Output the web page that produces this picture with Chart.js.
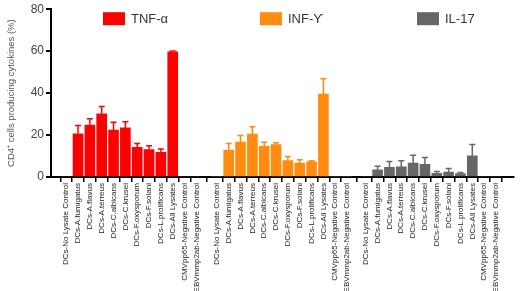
<!DOCTYPE html>
<html>
<head>
<meta charset="utf-8">
<script src="https://cdn.jsdelivr.net/npm/chart.js@4"></script>
<style>
  html, body { margin: 0; padding: 0; background: #fff; }
  #wrap { width: 520px; height: 291px; }
</style>
</head>
<body>
<div id="wrap"><canvas id="cytoChart"></canvas></div>
<script>
// categories (same for each cytokine group)
var categories = [
    'DCs-No Lysate Control', 'DCs-A.fumigatus', 'DCs-A.flavus', 'DCs-A.terreus',
    'DCs-C.albicans', 'DCs-C.krusei', 'DCs-F.oxysporum', 'DCs-F.solani',
    'DCs-L.prolificans', 'DCs-All Lysates', 'CMVpp65-Negative Control',
    'EBVmmp2ab-Negative Control'
];
var seriesNames = ['TNF-\u03b1', 'INF-\u03d2', 'IL-17'];

// mean values (%)
var tnfValues = [0, 20.6, 24.8, 30.1, 22.4, 23.4, 14.2, 13.1, 11.8, 59.7, 0, 0];
var infValues = [0, 12.8, 16.6, 20.5, 14.6, 15.4, 7.8, 6.6, 7.2, 39.5, 0, 0];
var il17Values = [0, 3.4, 4.6, 4.8, 6.6, 6.1, 1.8, 2.4, 1.6, 10.1, 0, 0];

// upper error (SD)
var tnfErr = [0, 3.9, 3.0, 3.5, 3.7, 3.0, 1.8, 1.8, 1.6, 0.4, 0, 0];
var infErr = [0, 3.2, 3.2, 3.5, 2.0, 0.9, 2.0, 1.6, 0.6, 7.3, 0, 0];
var il17Err = [0, 1.7, 2.8, 3.0, 3.8, 3.2, 0.8, 1.6, 0.5, 5.4, 0, 0];

var yTicks = [0, 20, 40, 60, 80];

// layout of the three groups along a linear x axis
var groupStart = [0, 12.73, 25.31];
var xPositions = [];
var xLabelAt = {};
groupStart.forEach(function (g) {
    categories.forEach(function (c, i) {
        xPositions.push(g + i);
        xLabelAt[(g + i).toFixed(2)] = c;
    });
});

function makePoints(g, values) {
    return values.map(function (v, i) { return {x: groupStart[g] + i, y: v}; });
}

var colors = ['#ff0000', '#ff8c10', '#666666'];
var allValues = [tnfValues, infValues, il17Values];
var allErr = [tnfErr, infErr, il17Err];
var fontFam = '"Liberation Sans", Arial, sans-serif';

var errorBars = {
    id: 'errorBars',
    afterDatasetsDraw: function (chart) {
        var ctx = chart.ctx;
        var yScale = chart.scales.y;
        chart.data.datasets.forEach(function (ds, d) {
            var meta = chart.getDatasetMeta(d);
            ctx.save();
            ctx.strokeStyle = ds.backgroundColor;
            ctx.lineWidth = 1.5;
            meta.data.forEach(function (bar, i) {
                var err = allErr[d][i];
                if (!err) return;
                var yTop = yScale.getPixelForValue(allValues[d][i] + err);
                ctx.beginPath();
                ctx.moveTo(bar.x, bar.y);
                ctx.lineTo(bar.x, yTop);
                ctx.moveTo(bar.x - 3, yTop);
                ctx.lineTo(bar.x + 3, yTop);
                ctx.stroke();
            });
            ctx.restore();
        });
    }
};

var boxLegend = {
    id: 'boxLegend',
    afterDraw: function (chart) {
        var ctx = chart.ctx;
        var area = chart.chartArea;
        ctx.save();
        ctx.font = '13px ' + fontFam;
        ctx.textBaseline = 'middle';
        chart.data.datasets.forEach(function (ds, d) {
            var x = area.left + 52 + d * 157;
            var y = area.top + 3;
            ctx.fillStyle = ds.backgroundColor;
            ctx.fillRect(x, y, 22, 13);
            ctx.fillStyle = '#333';
            ctx.fillText(ds.label, x + 28, y + 7);
        });
        ctx.restore();
    }
};

var ctx = document.getElementById('cytoChart').getContext('2d');

var cytoChart = new Chart(ctx, {
    type: 'bar',
    data: {
        datasets: seriesNames.map(function (name, d) {
            return {
                label: name,
                data: makePoints(d, allValues[d]),
                backgroundColor: colors[d],
                borderWidth: 0,
                barThickness: 10,
                grouped: false
            };
        })
    },
    options: {
        responsive: true,
        maintainAspectRatio: false,
        animation: false,
        layout: {
            padding: {top: 4, right: 6, left: 0, bottom: 0}
        },
        plugins: {
            legend: {display: false},
            tooltip: {enabled: false}
        },
        scales: {
            x: {
                type: 'linear',
                min: -0.74,
                max: 37.29,
                afterBuildTicks: function (scale) {
                    scale.ticks = xPositions.map(function (v) { return {value: v}; });
                },
                afterFit: function (scale) {
                    scale.height = 114;
                },
                border: {display: true, color: '#000', width: 2},
                grid: {
                    display: true,
                    drawOnChartArea: false,
                    drawTicks: true,
                    tickLength: 5,
                    color: '#000',
                    lineWidth: 1.5
                },
                ticks: {
                    autoSkip: false,
                    minRotation: 90,
                    maxRotation: 90,
                    padding: 1,
                    color: '#222',
                    font: {family: fontFam, size: 8},
                    callback: function (value) {
                        return xLabelAt[Number(value).toFixed(2)] || '';
                    }
                }
            },
            y: {
                min: 0,
                max: 80,
                afterBuildTicks: function (scale) {
                    scale.ticks = yTicks.map(function (v) { return {value: v}; });
                },
                afterFit: function (scale) {
                    scale.width = 51;
                },
                border: {display: true, color: '#000', width: 2},
                grid: {
                    display: true,
                    drawOnChartArea: false,
                    drawTicks: true,
                    tickLength: 5,
                    color: '#000',
                    lineWidth: 2
                },
                ticks: {
                    padding: 2,
                    color: '#444',
                    font: {family: fontFam, size: 12}
                },
                title: {
                    display: true,
                    text: 'CD4\u207a cells producing cytokines (%)',
                    color: '#555',
                    padding: {top: 6, bottom: 0},
                    font: {family: fontFam, size: 9.5}
                }
            }
        }
    },
    plugins: [errorBars, boxLegend]
});
</script>
</body>
</html>
